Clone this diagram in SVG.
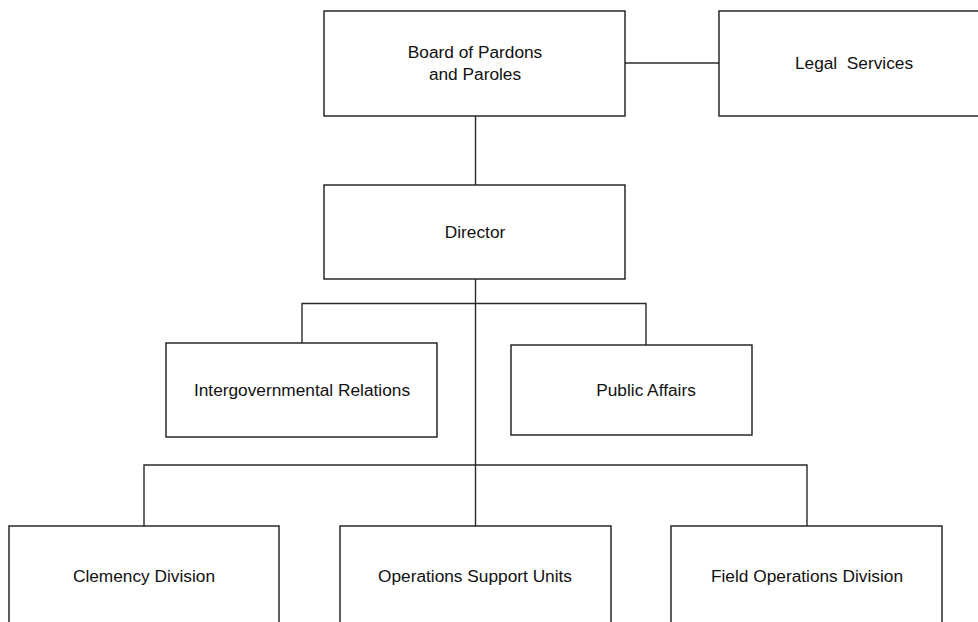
<svg xmlns="http://www.w3.org/2000/svg" width="978" height="622" viewBox="0 0 978 622">
<style>
.box{fill:#fff;stroke:#1a1a1a;stroke-width:1.4}
.lbl{font-family:"Liberation Sans",Arial,sans-serif;font-size:17.3px;fill:#111;text-anchor:middle}
.con{fill:none;stroke:#2a2a2a;stroke-width:1.4}
</style>
<rect width="978" height="622" fill="#fff"/>
<g id="connectors">
<path class="con" d="M625 63 H719"/>
<path class="con" d="M475.5 116 V185"/>
<path class="con" d="M475.5 279 V526"/>
<path class="con" d="M302 343 V303.5 H646 V345"/>
<path class="con" d="M144 526 V465 H807 V526"/>
</g>
<g id="board">
<rect class="box" x="324" y="11" width="301" height="105"/>
<text class="lbl" x="475" y="58">Board of Pardons</text>
<text class="lbl" x="475" y="80">and Paroles</text>
</g>
<g id="legal">
<rect class="box" x="719" y="11" width="301" height="105"/>
<text class="lbl" x="854" y="69" xml:space="preserve">Legal  Services</text>
</g>
<g id="director">
<rect class="box" x="324" y="185" width="301" height="94"/>
<text class="lbl" x="475" y="238">Director</text>
</g>
<g id="intergov">
<rect class="box" x="166" y="343" width="271" height="94"/>
<text class="lbl" x="302" y="396">Intergovernmental Relations</text>
</g>
<g id="public">
<rect class="box" x="511" y="345" width="241" height="90"/>
<text class="lbl" x="646" y="396">Public Affairs</text>
</g>
<g id="clemency">
<rect class="box" x="9" y="526" width="270" height="110"/>
<text class="lbl" x="144" y="582">Clemency Division</text>
</g>
<g id="ops">
<rect class="box" x="340" y="526" width="271" height="110"/>
<text class="lbl" x="475" y="582">Operations Support Units</text>
</g>
<g id="field">
<rect class="box" x="671" y="526" width="271" height="110"/>
<text class="lbl" x="807" y="582">Field Operations Division</text>
</g>
</svg>
